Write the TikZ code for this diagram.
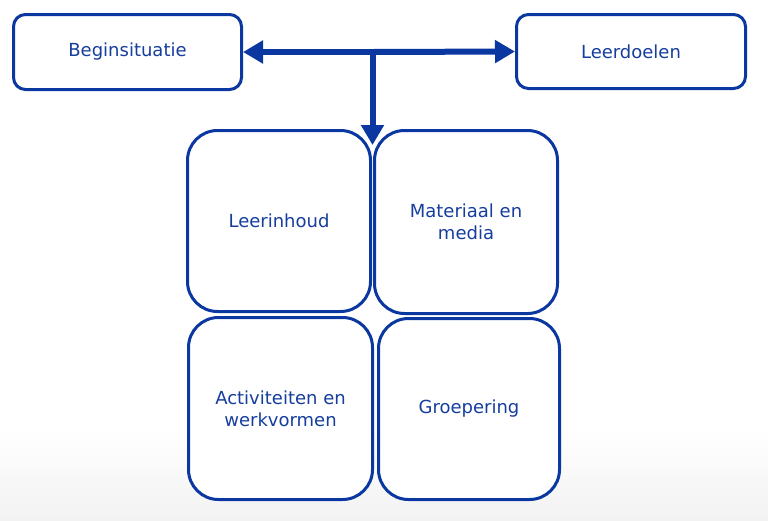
\documentclass[tikz,border=0pt]{standalone}
\usepackage{fontspec}
\setmainfont{DejaVu Sans}
\usetikzlibrary{arrows.meta}
\definecolor{dblue}{RGB}{10,56,160}
\definecolor{tblue}{RGB}{22,62,158}
\definecolor{bggray}{RGB}{242,242,242}
\begin{document}
\begin{tikzpicture}[x=1pt,y=-1pt,
  topbox/.style={draw=dblue,line width=3pt,rounded corners=12pt,fill=white,
    text=tblue,font=\fontsize{18}{22}\selectfont,align=center,inner sep=0pt},
  quadbox/.style={draw=dblue,line width=3pt,rounded corners=30pt,fill=white,
    text=tblue,font=\fontsize{18}{22}\selectfont,align=center,inner sep=0pt},
  conn/.style={draw=dblue,line width=6pt,-{Triangle[length=20pt,width=22pt]}}]
\useasboundingbox (0,0) rectangle (768,520);
\fill[white] (0,0) rectangle (768,430);
\shade[top color=white,bottom color=bggray] (0,430) rectangle (768,520);
\node[topbox,minimum width=228pt,minimum height=75pt] (begin) at (127.5,52) {Beginsituatie};
\node[topbox,minimum width=229pt,minimum height=74pt] (doel) at (631,51.5) {Leerdoelen};
\node[quadbox,minimum width=183pt,minimum height=181pt] (inhoud) at (279,221) {Leerinhoud};
\node[quadbox,minimum width=183pt,minimum height=183pt] (mat) at (466,222) {Materiaal en\\media};
\node[quadbox,minimum width=184pt,minimum height=182pt] (act) at (280.5,408.5) {Activiteiten en\\werkvormen};
\node[quadbox,minimum width=181pt,minimum height=181pt] (groep) at (469,409) {Groepering};
\coordinate (junc) at (372.5,52);
\coordinate (down) at (372.5,145);
\draw[conn] (junc) -- (begin.east);
\draw[conn] (junc) -- (doel.west);
\draw[conn,-{Triangle[length=20pt,width=22pt]}] ([yshift=-3pt]junc) -- (down);
\end{tikzpicture}
\end{document}
